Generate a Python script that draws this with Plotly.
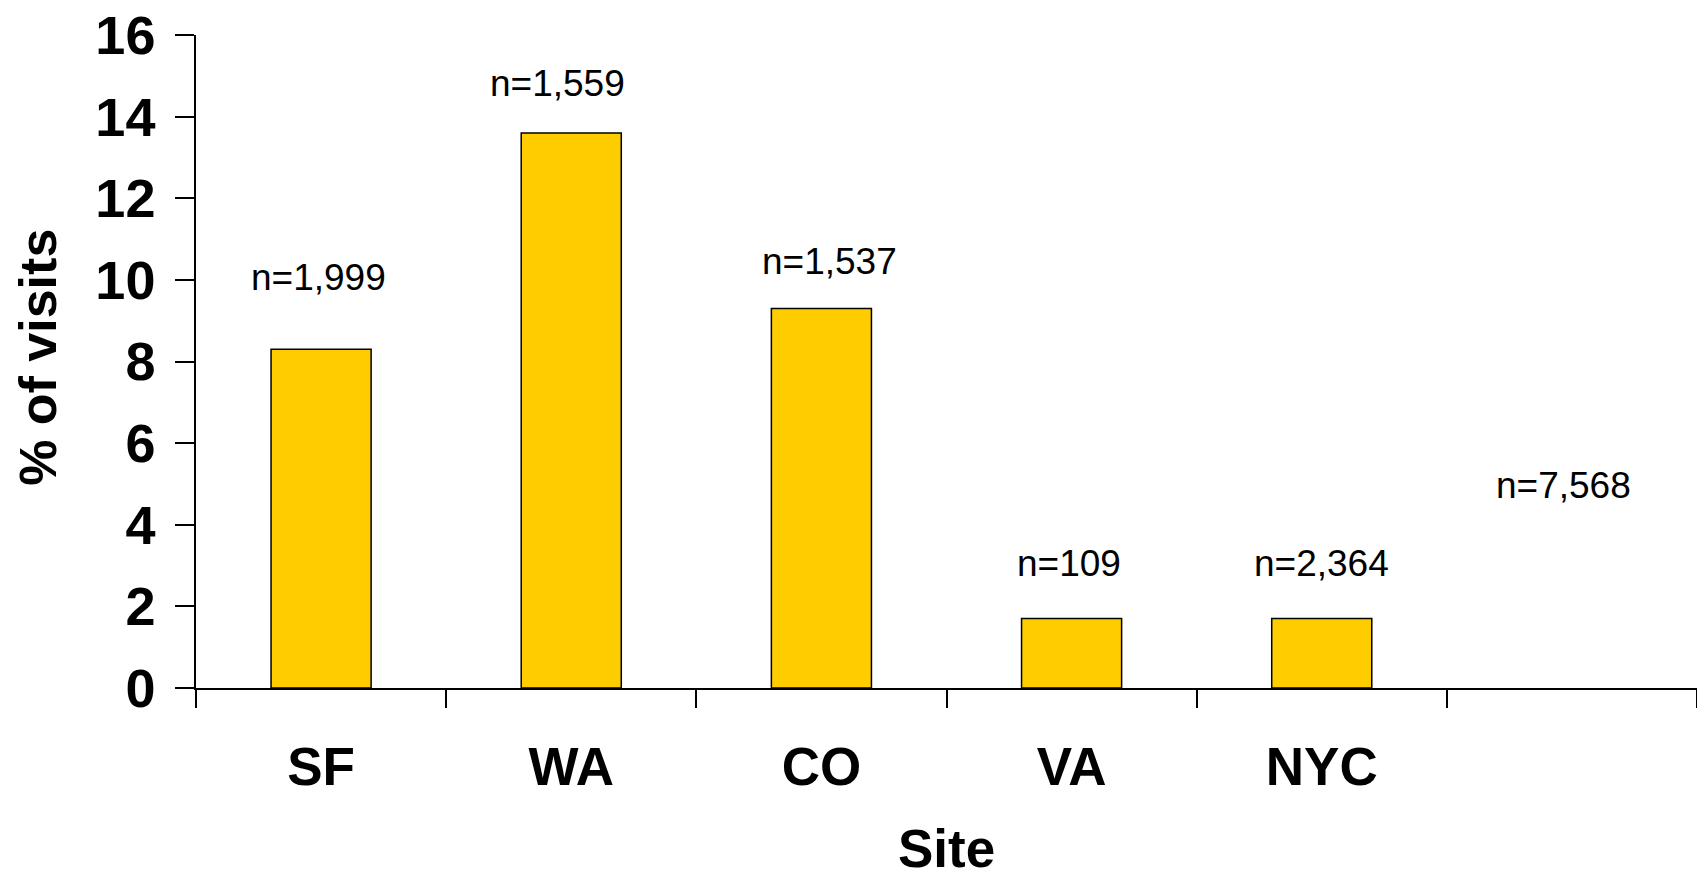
import plotly.graph_objects as go

# Share of visits by site, with sample size per site
sites = ["SF", "WA", "CO", "VA", "NYC", " "]
pct_visits = [8.3, 13.6, 9.3, 1.7, 1.7, None]
sample_labels = ["n=1,999", "n=1,559", "n=1,537", "n=109", "n=2,364", "n=7,568"]
x_title = "Site"
y_title = "% of visits"

# Placement of the sample-size labels (y in axis units, x nudge in pixels)
label_heights = [10.05, 14.8, 10.45, 3.05, 3.05, 4.95]
label_nudges = [-3, -14, 8, -3, 0, -8]
y_ticks = [0, 2, 4, 6, 8, 10, 12, 14, 16]

FONT = "Liberation Sans, Arial, sans-serif"

fig = go.Figure()
fig.add_trace(go.Bar(
    x=sites,
    y=pct_visits,
    width=0.4,
    marker=dict(color="#FFCC00", line=dict(color="black", width=1.5)),
    hoverinfo="x+y",
))

for site, txt, h, dx in zip(sites, sample_labels, label_heights, label_nudges):
    fig.add_annotation(
        x=site, y=h, text=txt, showarrow=False, xshift=dx,
        font=dict(family=FONT, size=37, color="black"),
        xanchor="center", yanchor="middle",
    )

# Axis titles placed as free text so they can sit close to the page edge
fig.add_annotation(
    xref="paper", yref="paper", x=0.5, y=-0.2945,
    text=f"<b>{x_title}</b>", showarrow=False,
    font=dict(family=FONT, size=53, color="black"),
    xanchor="center", yanchor="bottom",
)
fig.add_annotation(
    xref="paper", yref="paper", x=-0.1053, y=0.507,
    text=f"<b>{y_title}</b>", showarrow=False, textangle=-90,
    font=dict(family=FONT, size=52, color="black"),
    xanchor="center", yanchor="middle",
)

fig.update_layout(
    width=1697, height=881,
    margin=dict(l=196, r=0, t=35, b=193),
    paper_bgcolor="white", plot_bgcolor="white",
    showlegend=False,
    font=dict(family=FONT, color="black"),
)

fig.update_xaxes(
    type="category",
    categoryorder="array", categoryarray=sites,
    range=[-0.5, 5.5],
    automargin=False,
    showline=True, linecolor="black", linewidth=1.5,
    ticks="outside", tickson="boundaries", ticklen=18, tickwidth=1.5, tickcolor="black",
    tickfont=dict(size=53, family=FONT, weight="bold"),
    ticklabelstandoff=32,
    showgrid=False, zeroline=False,
)

fig.update_yaxes(
    range=[0, 16],
    tickvals=y_ticks,
    automargin=False,
    showline=True, linecolor="black", linewidth=1.5,
    ticks="outside", ticklen=19, tickwidth=1.5, tickcolor="black",
    tickfont=dict(size=54, family=FONT, weight="bold"),
    ticklabelstandoff=9,
    showgrid=False, zeroline=False,
)

fig.write_html("out.html")
